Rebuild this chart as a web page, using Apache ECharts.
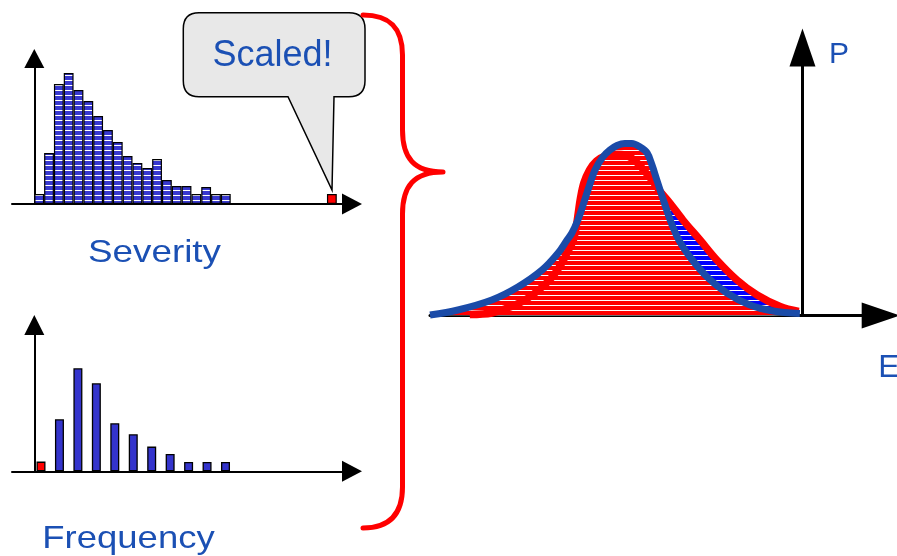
<!DOCTYPE html>
<html><head><meta charset="utf-8">
<script src="https://cdn.jsdelivr.net/npm/echarts@6/dist/echarts.min.js"></script>
<style>html,body{margin:0;padding:0;background:#fff}#c{width:897px;height:556px}</style>
</head><body><div id="c"></div>
<script>
// ---- Severity histogram (bin index -> relative height)
const severityBins = [10,51,120,131,114,103,88,74,62,48,41,36,45,24,18,18,10,17,10,10];
// the single scaled severity bin far out on the tail
const scaledSeverity = [30.3, 10];
// ---- Frequency (number of events N = 0..10 -> relative probability)
const frequencyCounts = [9.7,52,103,88,48,37,24.7,17.3,9.3,9.3,9.3];
// ---- Aggregate loss distributions (E -> P)
const redE = [-8.93,-8.34,-7.85,-7.45,-7.05,-6.72,-6.46,-6.28,-6.15,-6.08,-6.02,-5.96,-5.87,-5.72,-5.53,-5.30,-5.02,-4.76,-4.46,-4.09,-3.83,-3.56,-3.21,-2.75,-2.30,-1.76,-1.22,-0.60,-0.10];
const redP = [0.01,0.025,0.085,0.155,0.265,0.385,0.525,0.655,0.755,0.875,1.025,1.175,1.325,1.455,1.545,1.595,1.612,1.605,1.535,1.375,1.245,1.125,0.955,0.755,0.555,0.355,0.205,0.09,0.04];
const blueE = [-10.0,-9.25,-8.34,-7.64,-6.99,-6.56,-6.32,-6.19,-6.03,-5.89,-5.76,-5.57,-5.36,-5.17,-4.98,-4.77,-4.58,-4.36,-4.17,-4.04,-3.91,-3.69,-3.48,-3.29,-3.02,-2.56,-2.03,-1.41,-0.79,-0.07];
const blueP = [0.005,0.055,0.155,0.285,0.455,0.625,0.755,0.825,0.955,1.105,1.255,1.455,1.585,1.655,1.70,1.72,1.72,1.685,1.625,1.505,1.355,1.105,0.885,0.735,0.585,0.385,0.225,0.105,0.045,0.02];

const TEXT_BLUE = '#1b50b4';
const FONT = '"Liberation Sans", Arial, sans-serif';

function stripes(base, h) {
  const c = document.createElement('canvas');
  c.width = 4; c.height = h;
  const g = c.getContext('2d');
  g.fillStyle = base; g.fillRect(0, 0, 4, h);
  g.fillStyle = '#ffffff'; g.fillRect(0, 0, 4, 1);
  return { image: c, repeat: 'repeat' };
}
const barPattern = stripes('#3838d0', 5);
const redPattern = stripes('#ff0000', 5);
const bluePattern = stripes('#0000ff', 5);

// annotation shapes (callout bubble and curly brace)
echarts.graphic.registerShape('calloutShape', echarts.graphic.extendPath(
  'M199,12.7 H349 Q365,12.7 365,28.7 V80.7 Q365,96.7 349,96.7 H334 L332,190 L288,96.7 H199 Q183.3,96.7 183.3,80.7 V28.7 Q183.3,12.7 199,12.7 Z', {}));
echarts.graphic.registerShape('braceShape', echarts.graphic.extendPath(
  'M363,15 C390,15 402.5,28 402.5,55 L402.5,130 C402.5,158 414,172 443,172 C414,172 402.5,186 402.5,214 L402.5,487 C402.5,514 390,528 363,528', {}));

const hidden = { axisTick: { show: false }, axisLabel: { show: false }, splitLine: { show: false } };

const sevData = severityBins.map((v, i) => [i + 0.5, v]);
sevData.push({ value: scaledSeverity, itemStyle: { color: '#ff0000' } });
const freqData = frequencyCounts.map((v, n) => n === 0 ? { value: [n, v], itemStyle: { color: '#ff0000' } } : [n, v]);
const redCurve = redE.map((e, i) => [e, redP[i]]);
const blueCurve = blueE.map((e, i) => [e, blueP[i]]);

const txt = (text, x, y, size, sx) => ({ type: 'text', z: 101, silent: true, x: x, y: y, scaleX: sx || 1,
  style: { text: text, fontSize: size, fontFamily: FONT, fill: TEXT_BLUE,
    textAlign: 'center', textVerticalAlign: 'middle', align: 'center', verticalAlign: 'middle' } });

const chart = echarts.init(document.getElementById('c'));
chart.setOption({
  animation: false,
  backgroundColor: '#fff',
  grid: [
    { left: 12, top: 58.5, width: 340, height: 145.5, outerBoundsMode: 'none' },
    { left: 12, top: 325, width: 340, height: 146.3, outerBoundsMode: 'none' },
    { left: 430, top: 47.5, width: 450.7, height: 268, outerBoundsMode: 'none' }
  ],
  xAxis: [
    Object.assign({ gridIndex: 0, type: 'value', min: -2.27, max: 32.35,
      axisLine: { onZero: true, symbol: ['none', 'triangle'], symbolSize: [21, 20], lineStyle: { color: '#000', width: 2 } } }, hidden),
    Object.assign({ gridIndex: 1, type: 'value', min: -1.572, max: 16.856,
      axisLine: { onZero: true, symbol: ['none', 'triangle'], symbolSize: [21, 20], lineStyle: { color: '#000', width: 2 } } }, hidden),
    Object.assign({ gridIndex: 2, type: 'value', min: -10, max: 2.1,
      axisLine: { onZero: true, symbol: ['none', 'triangle'], symbolSize: [26, 38], lineStyle: { color: '#000', width: 3 } } }, hidden)
  ],
  yAxis: [
    Object.assign({ gridIndex: 0, type: 'value', min: 0, max: 145.5,
      axisLine: { show: true, onZero: true, symbol: ['none', 'triangle'], symbolSize: [20, 19], lineStyle: { color: '#000', width: 2 } } }, hidden),
    Object.assign({ gridIndex: 1, type: 'value', min: 0, max: 146.3, offset: -22.3,
      axisLine: { show: true, onZero: false, symbol: ['none', 'triangle'], symbolSize: [20, 20], lineStyle: { color: '#000', width: 2 } } }, hidden),
    Object.assign({ gridIndex: 2, type: 'value', min: 0, max: 2.68,
      axisLine: { show: true, onZero: true, symbol: ['none', 'triangle'], symbolSize: [26, 38], lineStyle: { color: '#000', width: 3 } } }, hidden)
  ],
  series: [
    { type: 'bar', xAxisIndex: 0, yAxisIndex: 0, data: sevData, barWidth: 9.82,
      itemStyle: { color: barPattern, borderColor: '#000', borderWidth: 1.2 }, silent: true },
    { type: 'bar', xAxisIndex: 1, yAxisIndex: 1, data: freqData, barWidth: 9,
      itemStyle: { color: '#3434cc', borderColor: '#000', borderWidth: 1.3 }, silent: true },
    { type: 'line', xAxisIndex: 2, yAxisIndex: 2, data: redCurve, smooth: 0.35, showSymbol: false,
      lineStyle: { width: 0, opacity: 0 }, areaStyle: { color: bluePattern, opacity: 1 }, silent: true },
    { type: 'line', xAxisIndex: 2, yAxisIndex: 2, data: blueCurve, smooth: 0.35, showSymbol: false,
      lineStyle: { width: 0, opacity: 0 }, areaStyle: { color: redPattern, opacity: 1 }, silent: true },
    { type: 'line', xAxisIndex: 2, yAxisIndex: 2, data: redCurve, smooth: 0.35, showSymbol: false,
      lineStyle: { width: 7.5, color: '#ff0000' }, silent: true },
    { type: 'line', xAxisIndex: 2, yAxisIndex: 2, data: blueCurve, smooth: 0.35, showSymbol: false,
      lineStyle: { width: 7, color: '#1a4ba8' }, silent: true }
  ],
  graphic: [
    { type: 'calloutShape', z: 100, silent: true, shape: {},
      style: { fill: '#e8e8e8', stroke: '#000', lineWidth: 1.5 } },
    txt('Scaled!', 272.5, 56, 36),
    { type: 'braceShape', z: 100, silent: true, shape: {},
      style: { fill: null, stroke: '#ff0000', lineWidth: 5, lineCap: 'round', lineJoin: 'round' } },
    txt('Severity', 154.5, 253, 32, 1.15),
    txt('Frequency', 128.5, 539, 32, 1.14),
    txt('P', 839, 55, 30),
    txt('E', 889, 368, 32)
  ]
});
</script>
</body></html>
